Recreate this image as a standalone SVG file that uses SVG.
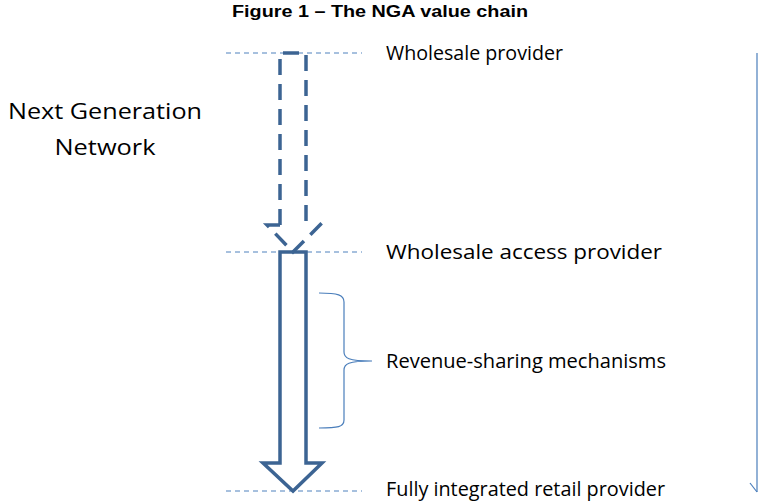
<svg xmlns="http://www.w3.org/2000/svg" width="758" height="501" viewBox="0 0 758 501">
  <style>
    .title { font-family: "Liberation Sans", Arial, sans-serif; font-weight: bold; font-size: 16px; fill: #000; }
    .lbl { font-family: "Open Sans", "Noto Sans", sans-serif; font-size: 19.5px; fill: #000; }
    .big { font-family: "Open Sans", "Noto Sans", sans-serif; font-size: 22px; fill: #000; }
    .level { stroke: #4f81bd; stroke-width: 1; stroke-dasharray: 5 4; fill: none; }
    .arrow { stroke: #3c6493; stroke-width: 3.5; fill: none; stroke-linejoin: miter; }
    .dash { stroke-dasharray: 16 9; }
    .thin { stroke: #4a7ebb; stroke-width: 1.2; fill: none; }
  </style>
  <rect width="758" height="501" fill="#fff"/>

  <text class="title" x="380" y="17" text-anchor="middle" textLength="296" lengthAdjust="spacingAndGlyphs">Figure 1 – The NGA value chain</text>

  <g id="ngn-label">
    <text class="big" x="105" y="119" text-anchor="middle" textLength="194" lengthAdjust="spacingAndGlyphs">Next Generation</text>
    <text class="big" x="105" y="155" text-anchor="middle" textLength="101" lengthAdjust="spacingAndGlyphs">Network</text>
  </g>

  <g id="connectors">
    <!-- level guides -->
    <line class="level" x1="226" y1="53" x2="362" y2="53"/>
    <line class="level" x1="226" y1="252" x2="362" y2="252"/>
    <line class="level" x1="226" y1="491" x2="362" y2="491"/>
    <!-- dashed upper arrow -->
    <path class="arrow dash" d="M280,225 L280,53 L306,53 L306,225"/>
    <path class="arrow dash" d="M280,225 L267,225 L293,252 L323,222" stroke-dasharray="9 7"/>
    <!-- solid lower arrow -->
    <path class="arrow" d="M280,252 L306,252 L306,463 L322,463 L293,491 L263,463 L280,463 Z"/>
    <!-- brace -->
    <path class="thin" d="M319,293 C338,293 344,295 344,302 L344,352 C344,358 348,361 372,361 C348,361 344,364 344,370 L344,420 C344,427 338,428 319,428"/>
    <!-- right-hand vertical arrow -->
    <line class="thin" x1="757" y1="53" x2="757" y2="492"/>
    <path class="thin" d="M750,483 L757,492"/>
  </g>

  <g id="wholesale-provider">
    <text class="lbl" x="386" y="60" textLength="177" lengthAdjust="spacingAndGlyphs">Wholesale provider</text>
  </g>
  <g id="wholesale-access-provider">
    <text class="lbl" x="386" y="259" textLength="276" lengthAdjust="spacingAndGlyphs">Wholesale access provider</text>
  </g>
  <g id="revenue-sharing">
    <text class="lbl" x="386" y="368" textLength="280" lengthAdjust="spacingAndGlyphs">Revenue-sharing mechanisms</text>
  </g>
  <g id="retail-provider">
    <text class="lbl" x="386" y="496" textLength="279" lengthAdjust="spacingAndGlyphs">Fully integrated retail provider</text>
  </g>
</svg>
